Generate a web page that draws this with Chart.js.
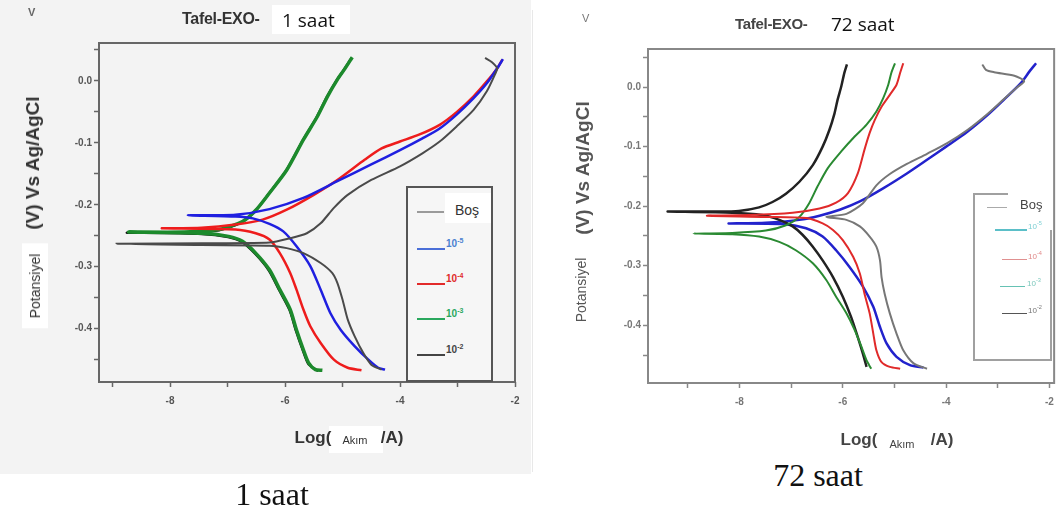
<!DOCTYPE html>
<html>
<head>
<meta charset="utf-8">
<script src="https://cdn.jsdelivr.net/npm/chart.js@4.4.1/dist/chart.umd.min.js"></script>
<style>
  body { margin: 0; width: 1062px; height: 512px; position: relative; overflow: hidden; background: #fff; font-family: "Liberation Sans", Arial, sans-serif; }
  .abs { position: absolute; white-space: nowrap; }
  .c { transform: translate(-50%, -50%); }
  .r { transform: translate(-50%, -50%) rotate(-90deg); }
  .box { position: absolute; box-sizing: border-box; }
  .sample { position: absolute; height: 0; border-top: 2px solid; }
  sup { font-size: 70%; vertical-align: 4px; line-height: 0; }
  canvas { position: absolute; top: 0; }
</style>
</head>
<body>
<div class="box" style="left:0;top:0;width:531px;height:474px;background:#f3f3f3;"></div>
<div class="box" style="left:532px;top:10px;width:1px;height:462px;background:#e8e8e8;"></div>

<canvas id="chart1" width="531" height="430" style="left:0;"></canvas>
<canvas id="chart72" width="532" height="430" style="left:530px;"></canvas>

<!-- 1 saat: titles -->
<div class="abs" style="left:28px;top:6px;font-size:11px;font-weight:bold;color:#666;">V</div>
<div class="abs" style="left:182px;top:10px;font-size:16px;font-weight:bold;color:#333;letter-spacing:-0.3px;">Tafel-EXO-</div>
<div class="box" style="left:272px;top:5px;width:78px;height:29px;background:#fff;"></div>
<div class="abs" style="left:282px;top:7px;font-size:19px;font-family:'Open Sans';color:#111;">1 saat</div>
<div class="abs r" style="left:33px;top:163px;font-size:19px;font-weight:bold;color:#333;">(V) Vs Ag/AgCl</div>
<div class="abs r" style="left:35px;top:286px;font-size:14px;color:#333;background:#fff;padding:5px 10px;">Potansiyel</div>
<div class="box" style="left:329px;top:426px;width:54px;height:27px;background:#fff;"></div>
<div class="abs c" style="left:313px;top:438px;font-size:17px;font-weight:bold;color:#333;">Log(</div>
<div class="abs c" style="left:355px;top:440px;font-size:11px;color:#333;">Akım</div>
<div class="abs c" style="left:392px;top:438px;font-size:17px;font-weight:bold;color:#333;">/A)</div>
<div class="abs c" style="left:272px;top:494px;font-size:32px;font-family:'Liberation Serif';color:#111;">1 saat</div>

<!-- 1 saat: legend -->
<div class="box" style="left:406px;top:186px;width:87px;height:196px;border:2px solid #555;background:#f6f6f6;"></div>
<div class="box" style="left:445px;top:193px;width:46px;height:30px;background:#fff;"></div>
<div class="sample" style="left:417px;top:211px;width:27px;border-color:#9a9a9a;"></div>
<div class="abs" style="left:455px;top:202px;font-size:14px;color:#333;">Boş</div>
<div class="sample" style="left:417px;top:248px;width:28px;border-color:#4a6fd8;"></div>
<div class="abs" style="left:446px;top:238px;font-size:10px;font-weight:bold;color:#4a80d0;">10<sup>-5</sup></div>
<div class="sample" style="left:417px;top:283px;width:28px;border-color:#e22a2a;"></div>
<div class="abs" style="left:446px;top:273px;font-size:10px;font-weight:bold;color:#e02a2a;">10<sup>-4</sup></div>
<div class="sample" style="left:417px;top:318px;width:28px;border-color:#2aa85e;"></div>
<div class="abs" style="left:446px;top:308px;font-size:10px;font-weight:bold;color:#2aa85e;">10<sup>-3</sup></div>
<div class="sample" style="left:417px;top:354px;width:28px;border-color:#444;"></div>
<div class="abs" style="left:446px;top:344px;font-size:10px;font-weight:bold;color:#444;">10<sup>-2</sup></div>

<!-- 72 saat: titles -->
<div class="abs" style="left:582px;top:12px;font-size:11px;color:#777;">V</div>
<div class="abs" style="left:735px;top:15px;font-size:15px;font-weight:bold;color:#444;letter-spacing:-0.3px;">Tafel-EXO-</div>
<div class="abs" style="left:831px;top:11px;font-size:19px;font-family:'Open Sans';color:#111;">72 saat</div>
<div class="abs r" style="left:583px;top:168px;font-size:19px;font-weight:bold;color:#555;">(V) Vs Ag/AgCl</div>
<div class="abs r" style="left:581px;top:290px;font-size:14px;color:#555;">Potansiyel</div>
<div class="abs c" style="left:859px;top:440px;font-size:17px;font-weight:bold;color:#444;">Log(</div>
<div class="abs c" style="left:902px;top:444px;font-size:11px;color:#444;">Akım</div>
<div class="abs c" style="left:942px;top:440px;font-size:17px;font-weight:bold;color:#444;">/A)</div>
<div class="abs c" style="left:818px;top:475px;font-size:32px;font-family:'Liberation Serif';color:#111;">72 saat</div>

<!-- 72 saat: legend -->
<div class="box" style="left:973px;top:193px;width:2px;height:168px;background:#a0a0a0;"></div>
<div class="box" style="left:973px;top:359px;width:79px;height:2px;background:#a0a0a0;"></div>
<div class="box" style="left:1050px;top:230px;width:2px;height:131px;background:#a0a0a0;"></div>
<div class="box" style="left:973px;top:193px;width:35px;height:2px;background:#a0a0a0;"></div>
<div class="sample" style="left:987px;top:207px;width:20px;border-top-width:1.5px;border-color:#aaa;"></div>
<div class="abs" style="left:1020px;top:197px;font-size:13px;color:#444;">Boş</div>
<div class="sample" style="left:995px;top:229px;width:32px;border-color:#5bbfc8;"></div>
<div class="abs" style="left:1028px;top:222px;font-size:8px;color:#7ccfd3;">10<sup>-5</sup></div>
<div class="sample" style="left:1002px;top:259px;width:25px;border-top-width:1.5px;border-color:#e09090;"></div>
<div class="abs" style="left:1028px;top:252px;font-size:8px;color:#e08888;">10<sup>-4</sup></div>
<div class="sample" style="left:1000px;top:286px;width:25px;border-top-width:1.5px;border-color:#66c2b4;"></div>
<div class="abs" style="left:1027px;top:279px;font-size:8px;color:#7cc8bc;">10<sup>-3</sup></div>
<div class="sample" style="left:1002px;top:313px;width:25px;border-top-width:1.5px;border-color:#555;"></div>
<div class="abs" style="left:1028px;top:306px;font-size:8px;color:#777;">10<sup>-2</sup></div>

<script>
// tick labels shown on both charts
const xTickLabels = [-8, -6, -4, -2];
const yTickLabels = [0, -0.1, -0.2, -0.3, -0.4];

// 1 saat: log(i) and E values, cathodic branch -> Ecorr -> anodic branch
const h1BosX = [-4.32, -4.50, -4.64, -4.79, -4.91, -5.00, -5.09, -5.18, -5.38, -5.68, -5.97, -6.27, -7.45, -8.93, -7.45, -6.27, -5.91, -5.62, -5.38, -5.15, -4.91, -4.50, -4.00, -3.61, -3.31, -3.02, -2.72, -2.49, -2.34, -2.31, -2.40, -2.52];
const h1BosY = [-0.466, -0.458, -0.439, -0.412, -0.385, -0.353, -0.326, -0.310, -0.294, -0.278, -0.270, -0.266, -0.265, -0.263, -0.262, -0.261, -0.254, -0.246, -0.230, -0.205, -0.184, -0.160, -0.138, -0.117, -0.098, -0.074, -0.047, -0.017, 0.012, 0.020, 0.030, 0.037];
const h1E5X = [-4.26, -4.38, -4.55, -4.79, -5.03, -5.21, -5.38, -5.56, -5.80, -6.03, -6.27, -6.56, -6.86, -7.69, -6.86, -6.27, -5.68, -5.09, -4.50, -4.00, -3.61, -3.31, -3.02, -2.72, -2.49, -2.31, -2.21];
const h1E5Y = [-0.466, -0.463, -0.450, -0.428, -0.402, -0.375, -0.337, -0.299, -0.267, -0.243, -0.231, -0.222, -0.219, -0.217, -0.216, -0.207, -0.189, -0.162, -0.135, -0.112, -0.093, -0.077, -0.055, -0.028, -0.004, 0.020, 0.035];
const h1E4X = [-4.67, -4.91, -5.15, -5.38, -5.56, -5.68, -5.80, -5.91, -6.09, -6.27, -6.51, -6.86, -8.14, -7.45, -6.86, -6.39, -5.97, -5.50, -5.09, -4.61, -4.32, -4.00, -3.67, -3.31, -3.02, -2.72, -2.49, -2.31, -2.22];
const h1E4Y = [-0.467, -0.463, -0.450, -0.423, -0.396, -0.369, -0.337, -0.310, -0.278, -0.256, -0.246, -0.240, -0.238, -0.237, -0.232, -0.224, -0.208, -0.184, -0.160, -0.127, -0.109, -0.098, -0.087, -0.071, -0.051, -0.025, -0.001, 0.020, 0.034];
const h1E3X = [-5.35, -5.47, -5.59, -5.68, -5.80, -5.91, -6.09, -6.27, -6.51, -6.74, -6.98, -7.45, -8.72, -7.75, -7.15, -6.74, -6.50, -6.27, -5.97, -5.68, -5.44, -5.26, -5.09, -4.97, -4.88, -4.83];
const h1E3Y = [-0.467, -0.466, -0.455, -0.434, -0.402, -0.369, -0.337, -0.305, -0.278, -0.259, -0.251, -0.246, -0.244, -0.244, -0.240, -0.227, -0.208, -0.181, -0.144, -0.095, -0.058, -0.025, 0.002, 0.018, 0.031, 0.038];
const h1E2X = [-5.42, -5.49, -5.60, -5.69, -5.81, -5.92, -6.10, -6.28, -6.52, -6.75, -6.99, -7.45, -8.75, -7.75, -7.15, -6.75, -6.51, -6.28, -5.98, -5.69, -5.45, -5.27, -5.10, -4.98, -4.89, -4.84];
const h1E2Y = [-0.468, -0.465, -0.456, -0.435, -0.403, -0.370, -0.338, -0.306, -0.279, -0.260, -0.252, -0.247, -0.245, -0.245, -0.241, -0.228, -0.209, -0.182, -0.145, -0.096, -0.059, -0.026, 0.001, 0.017, 0.030, 0.037];

// 72 saat
const h72BosX = [-4.37, -4.63, -4.83, -4.96, -5.09, -5.19, -5.25, -5.28, -5.35, -5.48, -5.67, -5.93, -6.32, -5.93, -5.61, -5.35, -5.09, -4.76, -4.37, -3.98, -3.59, -3.20, -2.88, -2.62, -2.49, -2.68, -3.07, -3.23, -3.30];
const h72BosY = [-0.473, -0.464, -0.442, -0.414, -0.380, -0.347, -0.319, -0.291, -0.268, -0.251, -0.234, -0.223, -0.218, -0.213, -0.195, -0.165, -0.146, -0.129, -0.112, -0.094, -0.072, -0.045, -0.020, 0.000, 0.010, 0.019, 0.025, 0.029, 0.038];
const h72E5X = [-4.44, -4.70, -4.96, -5.15, -5.28, -5.41, -5.61, -5.87, -6.13, -6.39, -6.71, -7.17, -8.21, -7.49, -6.84, -6.45, -6.06, -5.67, -5.22, -4.76, -4.37, -4.00, -3.59, -3.20, -2.88, -2.55, -2.39, -2.26];
const h72E5Y = [-0.471, -0.467, -0.453, -0.431, -0.403, -0.369, -0.335, -0.302, -0.274, -0.251, -0.237, -0.230, -0.229, -0.228, -0.223, -0.216, -0.206, -0.192, -0.170, -0.145, -0.122, -0.100, -0.075, -0.047, -0.021, 0.007, 0.026, 0.040];
const h72E4X = [-4.89, -5.09, -5.25, -5.35, -5.41, -5.48, -5.58, -5.67, -5.80, -6.00, -6.19, -6.39, -6.71, -7.49, -8.63, -7.82, -6.97, -6.45, -6.13, -5.90, -5.71, -5.58, -5.48, -5.38, -5.25, -5.09, -4.96, -4.89, -4.83];
const h72E4Y = [-0.473, -0.470, -0.462, -0.442, -0.414, -0.380, -0.347, -0.313, -0.285, -0.257, -0.240, -0.229, -0.220, -0.218, -0.216, -0.215, -0.211, -0.204, -0.194, -0.178, -0.145, -0.105, -0.077, -0.055, -0.033, -0.013, 0.004, 0.024, 0.040];
const h72E3X = [-5.45, -5.49, -5.54, -5.64, -5.77, -5.93, -6.13, -6.32, -6.58, -6.91, -7.23, -7.62, -8.14, -8.89, -8.14, -7.49, -7.10, -6.84, -6.65, -6.49, -6.29, -6.03, -5.77, -5.54, -5.35, -5.22, -5.12, -5.06, -4.99];
const h72E3Y = [-0.473, -0.467, -0.459, -0.436, -0.408, -0.380, -0.352, -0.324, -0.296, -0.274, -0.260, -0.251, -0.247, -0.246, -0.245, -0.241, -0.232, -0.218, -0.195, -0.167, -0.136, -0.108, -0.083, -0.063, -0.041, -0.019, 0.004, 0.024, 0.040];
const h72E2X = [-5.54, -5.61, -5.71, -5.84, -6.00, -6.19, -6.39, -6.58, -6.78, -6.97, -7.23, -7.56, -8.14, -9.39, -8.47, -8.01, -7.62, -7.36, -7.10, -6.84, -6.58, -6.39, -6.26, -6.16, -6.10, -6.03, -5.97, -5.92];
const h72E2Y = [-0.470, -0.448, -0.420, -0.386, -0.352, -0.319, -0.291, -0.268, -0.248, -0.234, -0.223, -0.215, -0.211, -0.209, -0.209, -0.208, -0.202, -0.193, -0.179, -0.159, -0.131, -0.100, -0.072, -0.044, -0.021, 0.001, 0.024, 0.038];

const frameBox = {
  id: "frameBox",
  afterDatasetsDraw(chart, args, opts) {
    const a = chart.chartArea;
    const c = chart.ctx;
    c.save();
    c.strokeStyle = opts.color;
    c.lineWidth = opts.width;
    c.strokeRect(a.left, a.top, a.right - a.left, a.bottom - a.top);
    c.restore();
  },
};

function series(xs, ys, color, width) {
  return {
    data: xs.map((x, i) => ({ x: x, y: ys[i] })),
    showLine: true,
    borderColor: color,
    borderWidth: width,
    pointRadius: 0,
    tension: 0.25,
    fill: false,
  };
}

function makeChart(id, datasets, xMin, xMax, yMin, yMax, area, frameColor, labelColor) {
  const tickFont = { family: "Liberation Sans", size: 10, weight: "bold" };
  return new Chart(document.getElementById(id).getContext("2d"), {
    type: "scatter",
    data: { datasets: datasets },
    options: {
      responsive: false,
      animation: false,
      layout: { padding: { left: 0, right: area.right, top: area.top, bottom: 0 } },
      plugins: {
        legend: { display: false },
        tooltip: { enabled: false },
        frameBox: { color: frameColor, width: 2 },
      },
      scales: {
        x: {
          type: "linear",
          min: xMin,
          max: xMax,
          afterFit: (s) => { s.height = area.xHeight; },
          border: { display: false },
          grid: { drawOnChartArea: false, drawTicks: true, tickLength: 5, tickColor: frameColor, tickWidth: 1.5 },
          ticks: {
            stepSize: 1,
            autoSkip: false,
            maxRotation: 0,
            includeBounds: false,
            padding: 8,
            color: labelColor,
            font: tickFont,
            callback: (v) => (xTickLabels.includes(v) ? String(v) : ""),
          },
        },
        y: {
          type: "linear",
          min: yMin,
          max: yMax,
          afterFit: (s) => { s.width = area.left; },
          border: { display: false },
          grid: { drawOnChartArea: false, drawTicks: true, tickLength: 5, tickColor: frameColor, tickWidth: 1.5 },
          ticks: {
            stepSize: 0.05,
            autoSkip: false,
            includeBounds: false,
            padding: 2,
            color: labelColor,
            font: tickFont,
            callback: (v) => {
              const lab = yTickLabels.find((t) => Math.abs(t - v) < 1e-6);
              return lab === undefined ? "" : lab.toFixed(1);
            },
          },
        },
      },
    },
    plugins: [frameBox],
  });
}

makeChart(
  "chart1",
  [
    series(h1BosX, h1BosY, "#4a4a4a", 2),
    series(h1E5X, h1E5Y, "#1f1fe0", 2.5),
    series(h1E4X, h1E4Y, "#ee1c1c", 2.5),
    series(h1E3X, h1E3Y, "#1c8a2c", 3.5),
    series(h1E2X, h1E2Y, "#111111", 2.5),
  ],
  -9.235, -2.0, -0.486, 0.061,
  { left: 99, right: 16, top: 43, xHeight: 48 },
  "#666", "#555"
);

makeChart(
  "chart72",
  [
    series(h72BosX, h72BosY, "#777777", 2),
    series(h72E4X, h72E4Y, "#e02a2a", 2),
    series(h72E3X, h72E3Y, "#2a8a32", 2),
    series(h72E2X, h72E2Y, "#222222", 2.5),
    series(h72E5X, h72E5Y, "#2222cc", 2.5),
  ],
  -9.77, -1.91, -0.497, 0.064,
  { left: 118, right: 6, top: 49, xHeight: 47 },
  "#888", "#777"
);
</script>
</body>
</html>
